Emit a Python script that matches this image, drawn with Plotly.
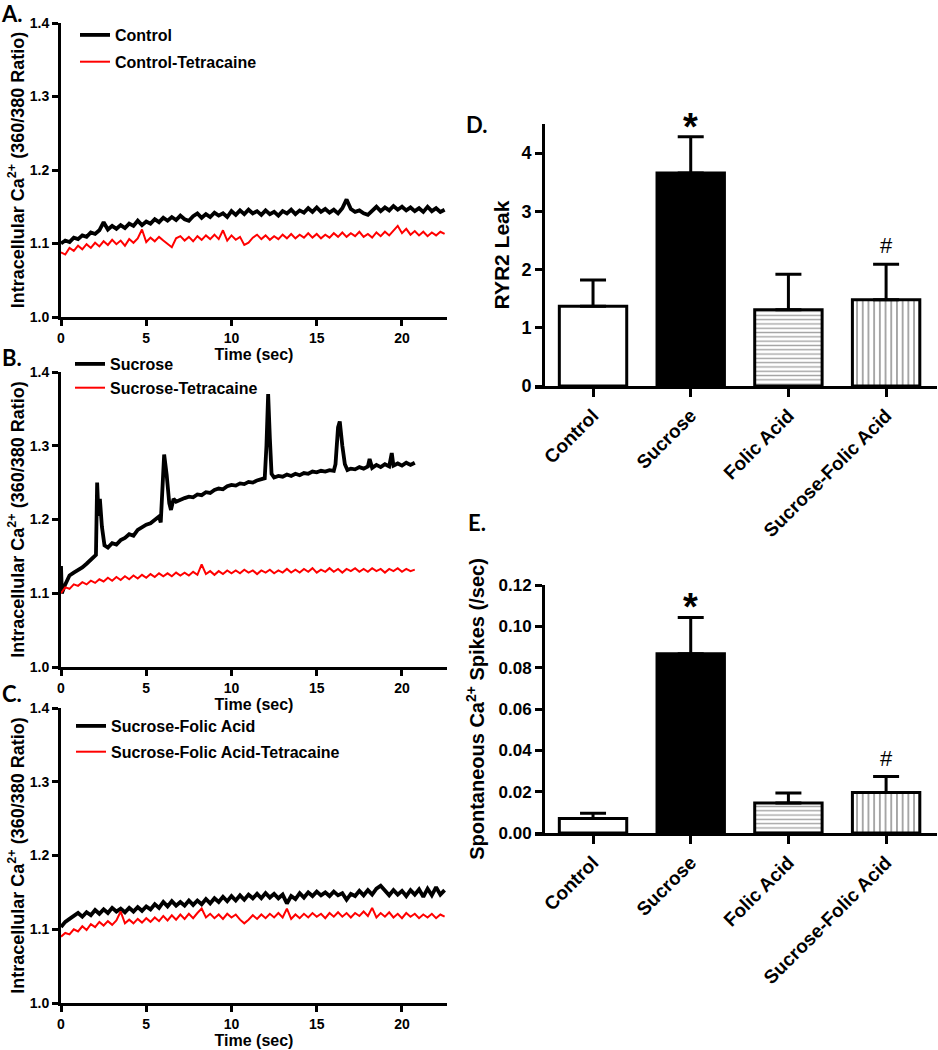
import plotly.graph_objects as go

# ---------------- DATA ----------------
dt = 0.25
ctrl_y = [1.100,1.104,1.102,1.108,1.106,1.111,1.109,1.115,1.113,1.118,1.129,1.119,1.124,1.120,1.125,1.121,
          1.127,1.124,1.131,1.125,1.130,1.127,1.133,1.129,1.135,1.131,1.136,1.132,1.138,1.133,1.131,1.137,
          1.141,1.135,1.140,1.136,1.142,1.138,1.141,1.136,1.144,1.139,1.145,1.140,1.146,1.141,1.144,1.139,
          1.145,1.140,1.143,1.138,1.144,1.141,1.146,1.140,1.145,1.142,1.148,1.143,1.149,1.143,1.147,1.142,
          1.146,1.141,1.148,1.160,1.147,1.143,1.145,1.141,1.139,1.144,1.150,1.144,1.149,1.145,1.151,1.146,
          1.150,1.145,1.149,1.144,1.148,1.143,1.150,1.144,1.148,1.143,1.146]
ctrl_tet_y = [1.088,1.085,1.094,1.090,1.097,1.092,1.099,1.094,1.101,1.096,1.103,1.098,1.105,1.099,1.104,1.097,
              1.106,1.101,1.107,1.119,1.102,1.108,1.103,1.109,1.104,1.100,1.095,1.107,1.110,1.104,1.109,1.103,
              1.110,1.105,1.111,1.106,1.112,1.106,1.118,1.104,1.111,1.105,1.109,1.098,1.101,1.108,1.112,1.106,
              1.111,1.105,1.110,1.106,1.112,1.107,1.113,1.107,1.112,1.108,1.114,1.108,1.113,1.107,1.112,1.108,
              1.114,1.109,1.115,1.109,1.114,1.110,1.116,1.109,1.113,1.108,1.115,1.110,1.116,1.111,1.118,1.124,
              1.114,1.120,1.112,1.117,1.111,1.116,1.110,1.115,1.111,1.116,1.113]

suc_t = [0.0,0.05,0.25,0.5,0.75,1.0,1.25,1.5,1.75,1.95,2.05,2.12,2.2,2.28,2.4,2.55,2.75,3.0,3.25,3.5,3.75,
         4.0,4.25,4.5,4.75,5.0,5.25,5.5,5.75,5.85,5.95,6.05,6.2,6.35,6.45,6.6,6.75,7.0,7.25,7.5,7.75,8.0,
         8.25,8.5,8.75,9.0,9.25,9.5,9.75,10.0,10.25,10.5,10.75,11.0,11.25,11.5,11.75,11.95,12.05,12.15,12.25,
         12.35,12.5,12.75,13.0,13.25,13.5,13.75,14.0,14.25,14.5,14.75,15.0,15.25,15.5,15.75,16.0,16.1,16.25,
         16.35,16.5,16.65,16.8,17.0,17.25,17.5,17.75,18.0,18.1,18.25,18.5,18.75,19.0,19.25,19.4,19.5,19.75,
         20.0,20.25,20.5,20.75]
suc_y = [1.137,1.100,1.112,1.124,1.128,1.131,1.135,1.140,1.145,1.150,1.152,1.250,1.205,1.228,1.190,1.165,1.162,
         1.168,1.166,1.172,1.175,1.180,1.178,1.186,1.190,1.193,1.195,1.200,1.204,1.196,1.240,1.288,1.260,1.222,
         1.213,1.228,1.224,1.227,1.229,1.231,1.230,1.234,1.233,1.237,1.236,1.240,1.242,1.241,1.245,1.247,1.246,
         1.249,1.248,1.251,1.250,1.253,1.255,1.256,1.300,1.370,1.310,1.262,1.257,1.259,1.258,1.261,1.259,1.262,
         1.260,1.263,1.262,1.265,1.264,1.266,1.265,1.267,1.266,1.275,1.325,1.333,1.300,1.275,1.267,1.269,1.268,
         1.271,1.269,1.272,1.282,1.270,1.274,1.271,1.275,1.272,1.290,1.273,1.276,1.273,1.277,1.274,1.277]
suc_tet_y = [1.100,1.108,1.106,1.112,1.110,1.115,1.112,1.117,1.114,1.119,1.116,1.121,1.117,1.122,1.118,1.123,
             1.119,1.124,1.120,1.125,1.121,1.126,1.122,1.127,1.123,1.127,1.123,1.128,1.124,1.128,1.124,1.129,
             1.125,1.139,1.126,1.130,1.125,1.130,1.126,1.131,1.127,1.131,1.127,1.132,1.128,1.131,1.126,1.131,
             1.128,1.132,1.127,1.131,1.128,1.133,1.128,1.132,1.128,1.133,1.129,1.134,1.128,1.132,1.129,1.134,
             1.129,1.133,1.128,1.133,1.130,1.134,1.129,1.133,1.129,1.134,1.130,1.133,1.128,1.133,1.130,1.134,
             1.129,1.133,1.130,1.132]

sfa_y = [1.103,1.110,1.114,1.118,1.122,1.117,1.123,1.119,1.126,1.121,1.127,1.122,1.129,1.124,1.128,1.123,
         1.129,1.124,1.130,1.125,1.131,1.127,1.134,1.129,1.137,1.131,1.138,1.132,1.137,1.132,1.139,1.133,
         1.139,1.134,1.141,1.135,1.142,1.137,1.144,1.138,1.145,1.139,1.146,1.140,1.147,1.142,1.148,1.142,
         1.149,1.143,1.148,1.142,1.147,1.135,1.145,1.141,1.149,1.143,1.150,1.145,1.151,1.146,1.150,1.145,
         1.151,1.146,1.149,1.140,1.148,1.145,1.152,1.146,1.153,1.147,1.155,1.159,1.152,1.146,1.153,1.147,
         1.152,1.145,1.153,1.147,1.154,1.144,1.155,1.146,1.157,1.147,1.153]
sfa_tet_y = [1.090,1.095,1.093,1.100,1.097,1.104,1.099,1.107,1.103,1.110,1.105,1.111,1.106,1.112,1.124,1.108,
             1.113,1.108,1.114,1.109,1.115,1.110,1.116,1.111,1.118,1.112,1.119,1.113,1.120,1.114,1.121,1.115,
             1.122,1.128,1.116,1.121,1.115,1.120,1.114,1.121,1.116,1.120,1.113,1.108,1.113,1.119,1.114,1.120,
             1.115,1.121,1.116,1.122,1.116,1.128,1.114,1.120,1.115,1.121,1.116,1.122,1.117,1.121,1.115,1.122,
             1.117,1.123,1.117,1.122,1.116,1.122,1.118,1.124,1.118,1.129,1.116,1.122,1.117,1.123,1.116,1.121,
             1.115,1.122,1.117,1.121,1.115,1.120,1.116,1.121,1.115,1.120,1.117]

groups = ["Control", "Sucrose", "Folic Acid", "Sucrose-Folic Acid"]
ryr2_mean = [1.37, 3.66, 1.31, 1.48]
ryr2_sem = [0.45, 0.62, 0.61, 0.61]
spk_mean = [0.0070, 0.0867, 0.0145, 0.0196]
spk_sem = [0.0025, 0.0176, 0.0049, 0.0077]
ryr2_marks = ["", "*", "", "#"]
spk_marks = ["", "*", "", "#"]

# ---------------- LAYOUT HELPERS ----------------
W, H = 938, 1050
def px(x): return x / W
def py(y): return 1 - y / H

FONT = "Liberation Sans, Arial, sans-serif"
LBL = "Lato, Liberation Sans, sans-serif"

def tt(y): return [i * dt for i in range(len(y))]

BLK_W, RED_W = 3.8, 2

fig = go.Figure()
# Panel A
fig.add_trace(go.Scatter(x=tt(ctrl_y), y=ctrl_y, mode="lines", name="Control",
                         line=dict(color="black", width=BLK_W), xaxis="x", yaxis="y", legend="legend", legendgroup="a1"))
fig.add_trace(go.Scatter(x=tt(ctrl_tet_y), y=ctrl_tet_y, mode="lines", name="Control-Tetracaine",
                         line=dict(color="#ff0000", width=RED_W), xaxis="x", yaxis="y", legend="legend", legendgroup="a2"))
# Panel B
fig.add_trace(go.Scatter(x=suc_t, y=suc_y, mode="lines", name="Sucrose",
                         line=dict(color="black", width=BLK_W), xaxis="x2", yaxis="y2", legend="legend2", legendgroup="b1"))
fig.add_trace(go.Scatter(x=tt(suc_tet_y), y=suc_tet_y, mode="lines", name="Sucrose-Tetracaine",
                         line=dict(color="#ff0000", width=RED_W), xaxis="x2", yaxis="y2", legend="legend2", legendgroup="b2"))
# Panel C
fig.add_trace(go.Scatter(x=tt(sfa_y), y=sfa_y, mode="lines", name="Sucrose-Folic Acid",
                         line=dict(color="black", width=BLK_W), xaxis="x3", yaxis="y3", legend="legend3", legendgroup="c1"))
fig.add_trace(go.Scatter(x=tt(sfa_tet_y), y=sfa_tet_y, mode="lines", name="Sucrose-Folic Acid-Tetracaine",
                         line=dict(color="#ff0000", width=RED_W), xaxis="x3", yaxis="y3", legend="legend3", legendgroup="c2"))

bar_marker = dict(color=["white", "black", "white", "white"],
                  line=dict(color="black", width=3),
                  pattern=dict(shape=["", "", "-", "|"], fgcolor="black", size=[5, 5, 4.3, 5.7], solidity=0.32))
# Panel D
fig.add_trace(go.Bar(x=groups, y=ryr2_mean, width=0.69, marker=bar_marker, showlegend=False,
                     error_y=dict(type="data", symmetric=False, array=ryr2_sem, arrayminus=[0]*4,
                                  color="black", thickness=3, width=13),
                     xaxis="x4", yaxis="y4"))
# Panel E
fig.add_trace(go.Bar(x=groups, y=spk_mean, width=0.69, marker=bar_marker, showlegend=False,
                     error_y=dict(type="data", symmetric=False, array=spk_sem, arrayminus=[0]*4,
                                  color="black", thickness=3, width=13),
                     xaxis="x5", yaxis="y5"))

axstyle = dict(showline=True, linewidth=3, linecolor="black", ticks="outside", ticklen=6, tickwidth=3,
               tickcolor="black", showgrid=False, zeroline=False, automargin=False,
               tickfont=dict(family=FONT, size=14, color="black", weight="bold"))
ytitle_lr = dict(text="Intracellular Ca<sup>2+</sup> (360/380 Ratio)",
                 font=dict(family=FONT, size=18, color="black", weight="bold"), standoff=1)
xtitle_lr = dict(text="Time (sec)", font=dict(family=FONT, size=16, color="black", weight="bold"), standoff=3)

layout = dict(width=W, height=H, margin=dict(l=0, r=0, t=0, b=0, autoexpand=False),
              paper_bgcolor="white", plot_bgcolor="white", showlegend=True)

tops = {1: (23, 317), 2: (372, 667), 3: (708, 1003)}
for i, (t0, t1) in tops.items():
    sx = "" if i == 1 else str(i)
    layout["xaxis" + sx] = dict(axstyle, domain=[px(61), px(447)], range=[0, 22.64], anchor="y" + sx,
                                tickvals=[0, 5, 10, 15, 20], title=xtitle_lr)
    layout["yaxis" + sx] = dict(axstyle, domain=[py(t1), py(t0)], range=[1.0, 1.4], anchor="x" + sx,
                                tickvals=[1.0, 1.1, 1.2, 1.3, 1.4], tickformat=".1f", title=ytitle_lr)

barx = dict(axstyle, domain=[px(535), px(937)], range=[-0.594, 3.521], type="category",
            ticklen=8, tickfont=dict(family=FONT, size=19, color="black", weight="bold"), tickangle=-45)
layout["xaxis4"] = dict(barx, anchor="y4")
layout["yaxis4"] = dict(axstyle, domain=[py(386), py(124)], range=[0, 4.5], anchor="free", position=px(543),
                        ticklen=7, tickvals=[0, 1, 2, 3, 4],
                        tickfont=dict(family=FONT, size=18, color="black", weight="bold"),
                        title=dict(text="RYR2 Leak", font=dict(family=FONT, size=21, color="black", weight="bold"),
                                   standoff=5))
layout["xaxis5"] = dict(barx, anchor="y5")
layout["yaxis5"] = dict(axstyle, domain=[py(833), py(585)], range=[0, 0.12], anchor="free", position=px(543),
                        ticklen=7, tickvals=[0, 0.02, 0.04, 0.06, 0.08, 0.10, 0.12], tickformat=".2f",
                        tickfont=dict(family=FONT, size=17, color="black", weight="bold"),
                        title=dict(text="Spontaneous Ca<sup>2+</sup> Spikes (/sec)",
                                   font=dict(family=FONT, size=20, color="black", weight="bold"), standoff=7))

def legfont(s): return dict(family=FONT, size=s, color="black", weight="bold")
layout["legend"] = dict(x=px(75), y=py(18), xanchor="left", yanchor="top", font=legfont(16),
                        bgcolor="rgba(0,0,0,0)", tracegroupgap=3, traceorder="grouped")
layout["legend2"] = dict(x=px(70), y=py(347), xanchor="left", yanchor="top", font=legfont(16),
                         bgcolor="rgba(0,0,0,0)", tracegroupgap=0, traceorder="grouped")
layout["legend3"] = dict(x=px(71), y=py(709), xanchor="left", yanchor="top", font=legfont(16),
                         bgcolor="rgba(0,0,0,0)", tracegroupgap=2, traceorder="grouped")

annotations = []
for lab, x, y in [("A.", 12, 13), ("B.", 12, 358), ("C.", 12, 693), ("D.", 477, 124), ("E.", 477, 522)]:
    annotations.append(dict(text=lab, x=px(x), y=py(y), xref="paper", yref="paper", showarrow=False,
                            xanchor="center", yanchor="middle",
                            font=dict(family=LBL, size=22, color="black", weight="bold")))
for (marks, means, sems, xa, ya) in [(ryr2_marks, ryr2_mean, ryr2_sem, "x4", "y4"),
                                      (spk_marks, spk_mean, spk_sem, "x5", "y5")]:
    for g, m, v, s in zip(groups, marks, means, sems):
        if not m:
            continue
        if m == "*":
            annotations.append(dict(text="*", x=g, y=v + s, xref=xa, yref=ya, showarrow=False,
                                    yanchor="bottom", yshift=-13,
                                    font=dict(family=FONT, size=38, color="black", weight="bold")))
        else:
            annotations.append(dict(text="#", x=g, y=v + s, xref=xa, yref=ya, showarrow=False,
                                    yanchor="bottom", yshift=4,
                                    font=dict(family=FONT, size=22, color="black")))
layout["annotations"] = annotations

fig.update_layout(layout)
fig.write_html("out.html", config={"displayModeBar": False},
               post_script="document.body.style.margin='0px';document.body.style.overflow='hidden';")
